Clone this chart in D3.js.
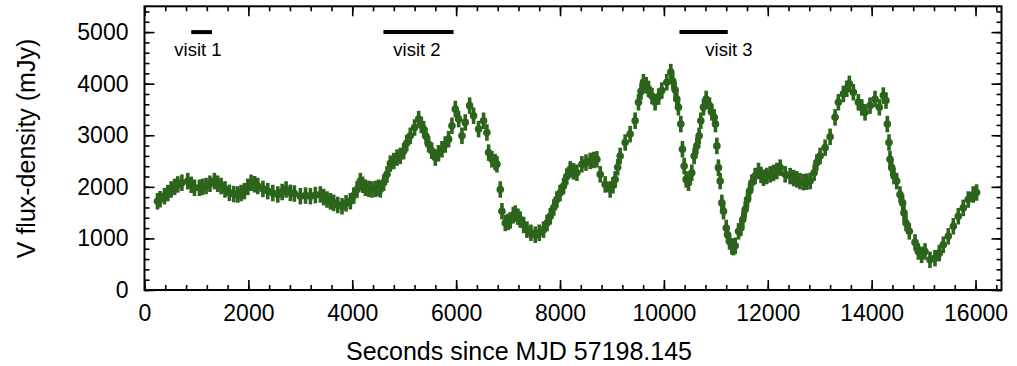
<!DOCTYPE html>
<html><head><meta charset="utf-8">
<script src="https://cdn.jsdelivr.net/npm/d3@7"></script>
<style>body{margin:0;background:#fff}svg{display:block}text{font-family:"Liberation Sans",Arial,Helvetica,sans-serif}</style>
</head><body><svg id="c" width="1017" height="366"></svg>
<script>
// ---- data ----
const times = [250,300,385,450,513,580,641,720,833,900,962,1058,1120,1186,1260,1347,1410,1475,1550,1635,1720,1796,1860,1924,1990,2053,2120,2181,2280,2373,2470,2566,2650,2726,2809,2886,3001,3100,3194,3290,3386,3450,3514,3580,3642,3720,3803,3880,3963,4030,4092,4156,4200,4252,4320,4380,4450,4508,4540,4604,4669,4733,4800,4861,4925,4989,5050,5117,5200,5278,5330,5374,5420,5470,5530,5599,5660,5727,5790,5855,5919,5984,6048,6112,6176,6260,6336,6432,6528,6593,6625,6689,6750,6786,6850,6882,6946,7000,7042,7100,7138,7190,7234,7300,7363,7440,7523,7600,7683,7750,7812,7880,7940,8000,8068,8130,8197,8260,8325,8421,8500,8581,8650,8710,8774,8870,8966,9020,9062,9110,9158,9254,9350,9446,9511,9560,9607,9660,9703,9770,9831,9900,9960,10056,10133,10170,10216,10248,10280,10326,10357,10390,10428,10473,10537,10582,10634,10678,10711,10762,10814,10878,10924,10968,10993,11020,11050,11083,11116,11148,11200,11225,11264,11309,11340,11373,11437,11482,11520,11565,11610,11649,11693,11757,11822,11870,11918,11980,12046,12110,12175,12239,12335,12431,12500,12560,12620,12688,12750,12816,12893,12944,13008,13104,13200,13296,13360,13456,13520,13571,13648,13744,13810,13873,13969,14065,14148,14225,14276,14302,14334,14353,14386,14430,14482,14546,14597,14623,14661,14725,14835,14899,14963,15027,15123,15219,15302,15379,15475,15572,15668,15764,15860,15956,16020];
const flux = [1720,1760,1819,1880,1949,2000,2047,2080,2111,2040,1982,1982,2000,2016,2060,2111,2060,2016,1950,1884,1860,1852,1880,1917,2000,2079,2050,2016,1960,1917,1880,1852,1900,1949,1884,1870,1819,1830,1819,1840,1852,1800,1754,1720,1689,1650,1624,1680,1722,1830,1949,2111,2040,1982,1960,1949,1960,1982,1950,2079,2242,2450,2500,2567,2600,2690,2850,2989,3150,3314,3200,3119,2980,2827,2700,2567,2650,2729,2820,2924,3184,3509,3314,2989,3249,3574,3379,3119,3281,3054,2664,2534,2480,2437,1949,1527,1300,1320,1350,1450,1482,1420,1365,1260,1170,1110,1072,1110,1170,1300,1430,1600,1754,1880,2014,2200,2339,2300,2274,2437,2470,2502,2520,2534,2242,2047,1949,2030,2144,2380,2599,2859,3022,3282,3639,3850,4029,3970,3899,3760,3639,3750,3867,4029,4224,4050,3880,3704,3542,3217,2729,2404,2144,2079,2274,2599,2794,2989,3282,3542,3704,3574,3444,3347,3217,2794,2372,2112,1689,1527,1202,1072,942,845,830,857,1137,1202,1365,1560,1754,1917,2079,2209,2307,2230,2177,2210,2242,2270,2307,2372,2242,2209,2170,2144,2110,2092,2100,2112,2274,2469,2600,2760,2970,3347,3639,3802,3900,3997,3834,3639,3540,3444,3574,3704,3542,3769,3672,3217,2859,2534,2372,2209,2112,1852,1689,1495,1300,1137,923,747,682,747,585,617,715,877,1040,1235,1430,1592,1754,1852,1890];
const fluxErr = 160;
const visitNames = ["visit 1","visit 2","visit 3"];
const visitStart = [900,4600,10300];
const visitEnd = [1300,5950,11230];
const visitLevel = 5000;
const xTicks = [0,2000,4000,6000,8000,10000,12000,14000,16000];
const yTicks = [0,1000,2000,3000,4000,5000];
const xLabel = "Seconds since MJD 57198.145";
const yLabel = "V flux-density (mJy)";

// ---- layout ----
const L=144.5, R=1001.5, T=6.3, B=290;
const x = d3.scaleLinear().domain([0,16500]).range([L,R]);
const y = d3.scaleLinear().domain([0,5500]).range([B,T]);
const svg = d3.select("#c");
const green = "#2c641c";

const xMinor = d3.range(0,16501,400), yMinor = d3.range(0,5501,200);
function styleAxis(g){ g.select(".domain").remove(); g.selectAll("line").attr("stroke","#000").attr("stroke-width",1.6); g.selectAll("text").attr("fill","#000").attr("font-size",23); }

// minor ticks
svg.append("g").attr("transform",`translate(0,${B})`).call(d3.axisBottom(x).tickValues(xMinor).tickSizeInner(-5).tickSizeOuter(0).tickFormat("")).call(styleAxis);
svg.append("g").attr("transform",`translate(0,${T})`).call(d3.axisTop(x).tickValues(xMinor).tickSizeInner(-5).tickSizeOuter(0).tickFormat("")).call(styleAxis);
svg.append("g").attr("transform",`translate(${L},0)`).call(d3.axisLeft(y).tickValues(yMinor).tickSizeInner(-5).tickSizeOuter(0).tickFormat("")).call(styleAxis);
svg.append("g").attr("transform",`translate(${R},0)`).call(d3.axisRight(y).tickValues(yMinor).tickSizeInner(-5).tickSizeOuter(0).tickFormat("")).call(styleAxis);
// major ticks
svg.append("g").attr("transform",`translate(0,${B})`).call(d3.axisBottom(x).tickValues(xTicks).tickSizeInner(-10).tickSizeOuter(0).tickPadding(15).tickFormat(d3.format("d"))).call(styleAxis);
svg.append("g").attr("transform",`translate(0,${T})`).call(d3.axisTop(x).tickValues(xTicks).tickSizeInner(-10).tickSizeOuter(0).tickFormat("")).call(styleAxis);
svg.append("g").attr("transform",`translate(${L},0)`).call(d3.axisLeft(y).tickValues(yTicks).tickSizeInner(-10).tickSizeOuter(0).tickPadding(16).tickFormat(d3.format("d"))).call(styleAxis);
svg.append("g").attr("transform",`translate(${R},0)`).call(d3.axisRight(y).tickValues(yTicks).tickSizeInner(-10).tickSizeOuter(0).tickFormat("")).call(styleAxis);

// frame
svg.append("rect").attr("x",L).attr("y",T).attr("width",R-L).attr("height",B-T).attr("fill","none").attr("stroke","#000").attr("stroke-width",2);

// data: error bars + points
const pts = times.map((t,i)=>({t, v:flux[i]}));
const gd = svg.append("g");
gd.selectAll("line.eb").data(pts).enter().append("line")
  .attr("x1",d=>x(d.t)).attr("x2",d=>x(d.t))
  .attr("y1",d=>y(d.v-fluxErr)).attr("y2",d=>y(d.v+fluxErr))
  .attr("stroke",green).attr("stroke-width",3.6);
gd.selectAll("circle").data(pts).enter().append("circle")
  .attr("cx",d=>x(d.t)).attr("cy",d=>y(d.v)).attr("r",3.8).attr("fill",green);

// visit bars
visitNames.forEach((n,i)=>{
  svg.append("line").attr("x1",x(visitStart[i])).attr("x2",x(visitEnd[i]))
    .attr("y1",y(visitLevel)).attr("y2",y(visitLevel)).attr("stroke","#000").attr("stroke-width",4);
});
const labelCx = [198,417,729];
visitNames.forEach((n,i)=>{
  svg.append("text").attr("x",labelCx[i]).attr("y",56).attr("text-anchor","middle")
    .attr("font-size",18.5).text(n);
});

// axis titles
svg.append("text").attr("x",(L+R)/2 - 54).attr("y",360).attr("text-anchor","middle").attr("font-size",25).text(xLabel);
svg.append("text").attr("transform","translate(35,148.5) rotate(-90)").attr("text-anchor","middle").attr("font-size",25).text(yLabel);
</script></body></html>
